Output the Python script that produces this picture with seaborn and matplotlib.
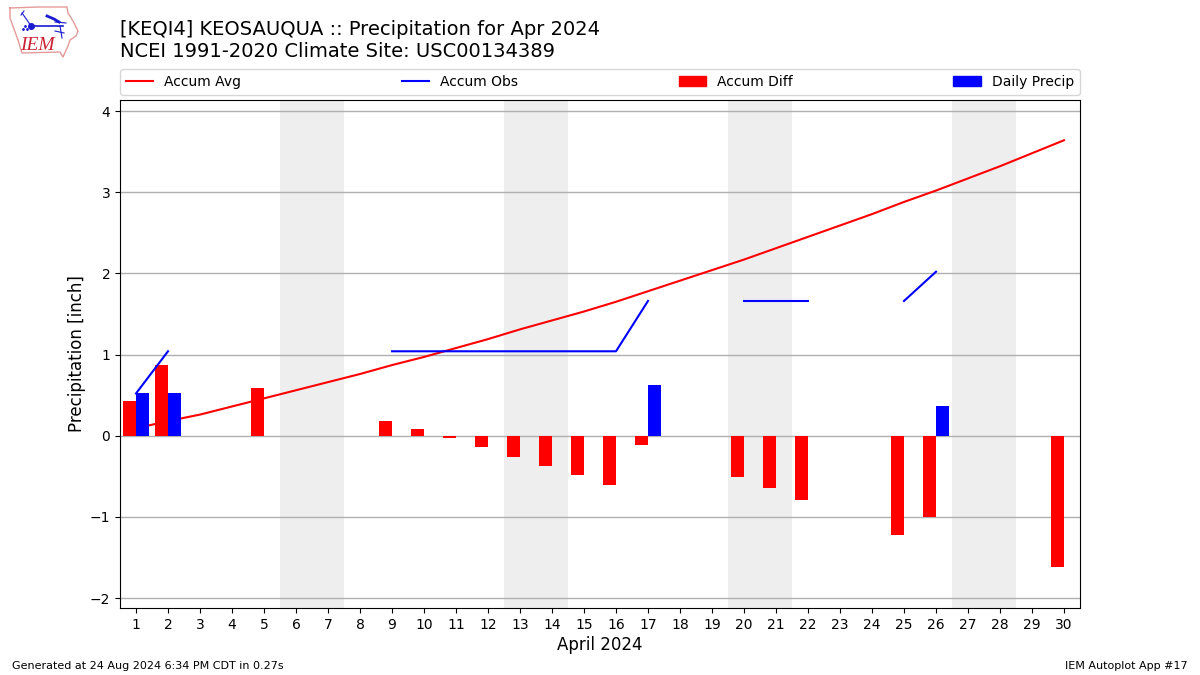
import numpy as np
import pandas as pd
import matplotlib
matplotlib.use("Agg")
import matplotlib.pyplot as plt
import seaborn as sns
from matplotlib.lines import Line2D
from matplotlib.patches import Patch

nan = np.nan
days = list(range(1, 31))
accum_avg = [0.09, 0.18, 0.26, 0.36, 0.46, 0.56, 0.66, 0.76, 0.87, 0.97,
             1.08, 1.19, 1.31, 1.42, 1.53, 1.65, 1.78, 1.91, 2.04, 2.17,
             2.31, 2.45, 2.59, 2.73, 2.88, 3.02, 3.17, 3.32, 3.48, 3.64]
accum_obs = [0.52, 1.04, nan, nan, nan, nan, nan, nan, 1.04, 1.04,
             1.04, 1.04, 1.04, 1.04, 1.04, 1.04, 1.66, nan, nan, 1.66,
             1.66, 1.66, nan, nan, 1.66, 2.02, nan, nan, nan, nan]
accum_diff = [0.43, 0.87, nan, nan, 0.59, nan, nan, nan, 0.18, 0.08,
              -0.03, -0.14, -0.26, -0.37, -0.48, -0.61, -0.11, nan, nan, -0.51,
              -0.65, -0.79, nan, nan, -1.22, -1.00, nan, nan, nan, -1.62]
daily_precip = [0.53, 0.53, nan, nan, nan, nan, nan, nan, nan, nan,
                nan, nan, nan, nan, nan, nan, 0.63, nan, nan, nan,
                nan, nan, nan, nan, nan, 0.37, nan, nan, nan, nan]
weekends = [(6, 7), (13, 14), (20, 21), (27, 28)]
y_ticks = [-2, -1, 0, 1, 2, 3, 4]
y_tick_labels = ["\u22122", "\u22121", "0", "1", "2", "3", "4"]

title = "[KEQI4] KEOSAUQUA :: Precipitation for Apr 2024\nNCEI 1991-2020 Climate Site: USC00134389"
footer_left = "Generated at 24 Aug 2024 6:34 PM CDT in 0.27s"
footer_right = "IEM Autoplot App #17"

fig = plt.figure(figsize=(12, 6.75), dpi=100)
W, H = 1200.0, 675.0
ax = fig.add_axes([120 / W, 1 - 608 / H, 960 / W, 508 / H])

for a, b in weekends:
    ax.axvspan(a - 0.5, b + 0.5, color="#eeeeee", lw=0, zorder=0)
ax.grid(axis="y", color="#b0b0b0", lw=1, zorder=1)
ax.set_axisbelow(True)

bars = pd.DataFrame({
    "day": days * 2,
    "value": accum_diff + daily_precip,
    "series": ["Accum Diff"] * 30 + ["Daily Precip"] * 30,
})
sns.barplot(data=bars, x="day", y="value", hue="series", native_scale=True,
            palette={"Accum Diff": "#ff0000", "Daily Precip": "#0000ff"},
            width=0.8, gap=0, dodge=True, saturation=1, errorbar=None,
            legend=False, ax=ax, zorder=2)

lines = pd.DataFrame({"day": days, "avg": accum_avg, "obs": accum_obs})
sns.lineplot(data=lines, x="day", y="avg", color="#ff0000", lw=1.5,
             estimator=None, ax=ax, zorder=1.5)
# obs line breaks at missing days, one unit per run
lines["run"] = lines["obs"].isna().cumsum()
sns.lineplot(data=lines.dropna(subset=["obs"]), x="day", y="obs", units="run",
             color="#0000ff", lw=1.5, estimator=None, ax=ax, zorder=3)

ax.set_xlim(0.5, 30.5)
ax.set_ylim(-2.123, 4.136)
ax.set_xticks(days)
ax.set_xticklabels([str(d) for d in days])
ax.set_yticks(y_ticks)
ax.set_yticklabels(y_tick_labels)
ax.tick_params(axis="both", which="major", labelsize=10)
ax.set_xlabel("")
ax.set_ylabel("")
fig.text(600 / W, 1 - 645 / H, "April 2024", fontsize=12, ha="center", va="center")
fig.text(77 / W, 1 - 354 / H, "Precipitation [inch]", fontsize=12, rotation=90,
         ha="center", va="center")

handles = [Line2D([], [], color="#ff0000", lw=1.5),
           Line2D([], [], color="#0000ff", lw=1.5),
           Patch(color="#ff0000"), Patch(color="#0000ff")]
ax.legend(handles, ["Accum Avg", "Accum Obs", "Accum Diff", "Daily Precip"],
          ncol=4, mode="expand", loc="lower left", fontsize=10,
          bbox_to_anchor=(0, 1 + 5.5 / 508, 1, 0.05), borderaxespad=0)

fig.text(120 / W, 1 - 61 / H, title, fontsize=14, ha="left", va="bottom", linespacing=1.2)
fig.text(12 / W, 1 - 671 / H, footer_left, fontsize=8, ha="left", va="bottom")
fig.text(1188 / W, 1 - 671 / H, footer_right, fontsize=8, ha="right", va="bottom")

# IEM logo, in screen pixels
logo = fig.add_axes([0, 1 - 60 / H, 80 / W, 60 / H])
logo.set_xlim(0, 80)
logo.set_ylim(60, 0)
logo.axis("off")
blue = "#1a1ad0"
outline_x = [10, 38, 67, 68, 73, 78, 76, 70, 68, 63, 60, 22, 18, 10, 10]
outline_y = [8, 7, 7, 13, 21, 31, 36, 40, 46, 57, 52, 53, 40, 18, 8]
logo.plot(outline_x, outline_y, color="#e59a9a", lw=1)
logo.plot([32, 63], [26, 26], color=blue, lw=1.2)
logo.plot([22, 27, 31], [13, 20, 26], color=blue, lw=0.8)
logo.plot([21, 24], [15, 11], color=blue, lw=0.8)
logo.plot([47, 54, 59], [16, 19, 22], color=blue, lw=2)
logo.plot([55, 66], [22, 23], color=blue, lw=0.8)
logo.plot([60, 62], [26, 38], color=blue, lw=0.8)
logo.plot([55, 64], [31, 33], color=blue, lw=0.8)
logo.plot([31], [26], "o", color=blue, ms=4)
logo.plot([23, 25, 27], [29, 26, 29], ".", color=blue, ms=2)
logo.text(37.5, 45, "IEM", color="#cc2233", fontsize=14, family="Liberation Serif",
          style="italic", ha="center", va="center")

fig.savefig("out.png", dpi=100)
